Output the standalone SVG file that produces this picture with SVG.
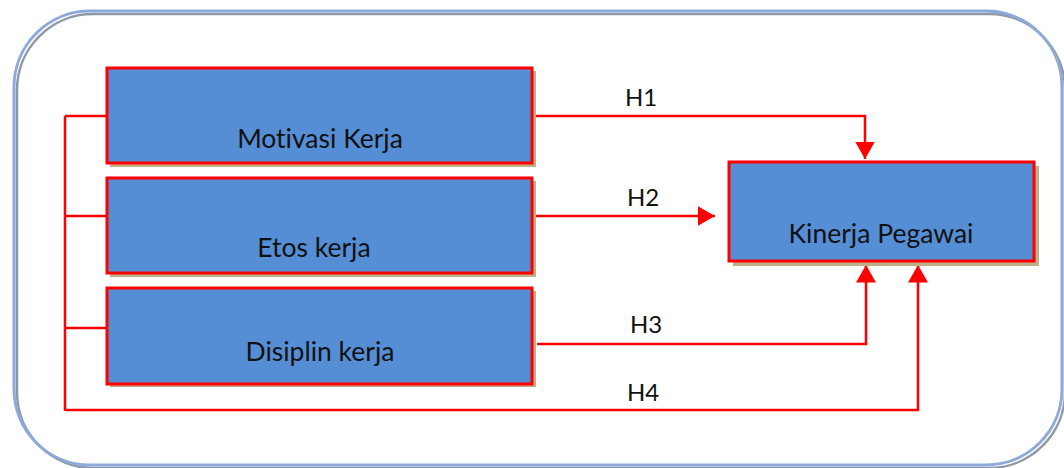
<svg xmlns="http://www.w3.org/2000/svg" width="1064" height="468" viewBox="0 0 1064 468">
  <defs>
    <style>
      .box { fill: #558ED5; stroke: #FF0000; stroke-width: 3; }
      .shadow { fill: #C0B088; }
      text { font-family: Lato, "Open Sans", "Liberation Sans", sans-serif; fill: #111111; text-anchor: middle; font-variant-ligatures: none; }
      .label { font-size: 26.5px; }
      .hlabel { font-size: 24px; }
      .wire { fill: none; stroke: #FF0000; stroke-width: 2.5; }
    </style>
    <marker id="arrow" markerWidth="8" markerHeight="8" refX="7" refY="4" orient="auto" markerUnits="strokeWidth">
      <path d="M0,0 L7,4 L0,8 Z" fill="#FF0000"/>
    </marker>
  </defs>

  <rect width="1064" height="468" fill="#FFFFFF"/>

  <!-- outer frame: light blue line with a grey offset shade -->
  <g id="frame">
    <rect x="17" y="14" width="1048" height="454" rx="76" ry="76" fill="none" stroke="#8E99A8" stroke-width="2.5"/>
    <rect x="14" y="11" width="1048" height="454" rx="76" ry="76" fill="none" stroke="#8EAADB" stroke-width="3"/>
  </g>

  <!-- connectors -->
  <g id="connectors">
    <!-- left bus feeding the three predictors -->
    <path class="wire" d="M65,116 V411"/>
    <path class="wire" d="M65,116 H107"/>
    <path class="wire" d="M65,216 H107"/>
    <path class="wire" d="M65,328 H107"/>
    <!-- H1 -->
    <path class="wire" d="M534,116 H865 V159" marker-end="url(#arrow)"/>
    <!-- H2 -->
    <path class="wire" d="M534,216 H715" marker-end="url(#arrow)"/>
    <!-- H3 -->
    <path class="wire" d="M537,344 H866 V265" marker-end="url(#arrow)"/>
    <!-- H4 -->
    <path class="wire" d="M66,410 H918 V265" marker-end="url(#arrow)"/>
    <text class="hlabel" x="641" y="106">H1</text>
    <text class="hlabel" x="643" y="206">H2</text>
    <text class="hlabel" x="646" y="333">H3</text>
    <text class="hlabel" x="643" y="401">H4</text>
  </g>

  <g id="motivasi">
    <rect class="shadow" x="110" y="71" width="426" height="96"/>
    <rect class="box" x="107" y="68" width="425" height="95"/>
    <text class="label" x="320" y="148">Motivasi Kerja</text>
  </g>

  <g id="etos">
    <rect class="shadow" x="110" y="181" width="426" height="96"/>
    <rect class="box" x="107" y="178" width="425" height="95"/>
    <text class="label" x="314" y="257">Etos kerja</text>
  </g>

  <g id="disiplin">
    <rect class="shadow" x="110" y="291" width="426" height="96"/>
    <rect class="box" x="107" y="288" width="425" height="96"/>
    <text class="label" x="320" y="361">Disiplin kerja</text>
  </g>

  <g id="kinerja">
    <rect class="shadow" x="733" y="166" width="306" height="100"/>
    <rect class="box" x="729" y="162" width="305" height="99"/>
    <text class="label" x="881" y="243">Kinerja Pegawai</text>
  </g>
</svg>
